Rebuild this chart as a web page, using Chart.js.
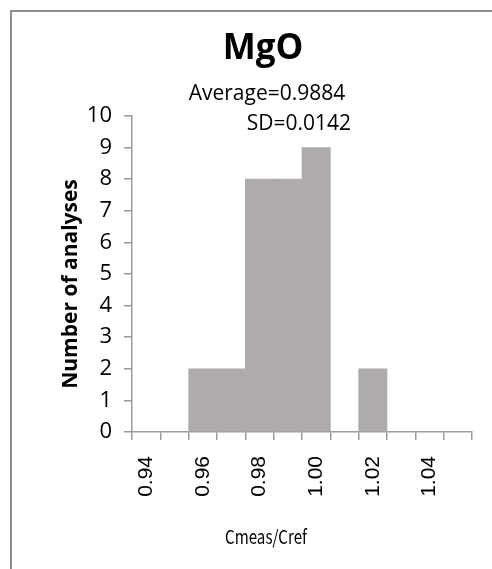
<!DOCTYPE html>
<html>
<head>
<meta charset="UTF-8">
<title>MgO</title>
<script src="https://cdn.jsdelivr.net/npm/chart.js"></script>
<style>
  body { margin: 0; background: #fff; }
  canvas { display: block; }
</style>
</head>
<body>
<canvas id="hist" width="492" height="569"></canvas>
<script>
// bins of Cmeas/Cref (bin start), counts per bin
const bins = ['0.94', '0.95', '0.96', '0.97', '0.98', '0.99', '1.00', '1.01', '1.02', '1.03', '1.04', '1.05'];
const counts = [0, 0, 2, 2, 8, 8, 9, 0, 2, 0, 0, 0];
const yTicks = [0, 1, 2, 3, 4, 5, 6, 7, 8, 9, 10];

const titleText = 'MgO';
const avgText = 'Average=0.9884';
const sdText = 'SD=0.0142';
const yTitle = 'Number of analyses';
const xTitle = 'Cmeas/Cref';

const axisGray = '#999999';

// frame + texts drawn on the canvas
const decor = {
  id: 'decor',
  beforeDraw(chart) {
    const c = chart.ctx;
    c.save();
    c.fillStyle = '#fff';
    c.fillRect(0, 0, chart.width, chart.height);
    c.strokeStyle = '#8c8c8c';
    c.lineWidth = 2;
    c.strokeRect(11, 11, 700, 700);
    c.restore();
  },
  afterDraw(chart) {
    const c = chart.ctx;
    c.save();
    c.fillStyle = '#000';
    c.textBaseline = 'alphabetic';

    c.font = 'bold 35px "Open Sans"';
    c.textAlign = 'center';
    c.fillText(titleText, 263, 59);

    c.font = '21px "Open Sans"';
    c.fillText(avgText, 267, 100);
    c.textAlign = 'right';
    c.fillText(sdText, 351, 130);

    // y axis title
    c.translate(77, 284);
    c.rotate(-Math.PI / 2);
    c.textAlign = 'center';
    c.font = 'bold 21px "Open Sans"';
    c.fillText(yTitle, 0, 0);
    c.restore();

    // x axis title, narrow gothic look
    c.save();
    c.font = '19px "Noto Sans CJK JP"';
    const w = c.measureText(xTitle).width;
    c.translate(266, 544);
    c.scale(82 / w, 1);
    c.textAlign = 'center';
    c.fillStyle = '#000';
    c.fillText(xTitle, 0, 0);
    c.restore();
  }
};

new Chart(document.getElementById('hist'), {
  type: 'bar',
  data: {
    labels: bins,
    datasets: [{
      data: counts,
      backgroundColor: '#aeabaa',
      borderWidth: 0,
      barPercentage: 1,
      categoryPercentage: 1
    }]
  },
  options: {
    responsive: false,
    animation: false,
    layout: { padding: { left: 0, top: 116, right: 20, bottom: 0 } },
    plugins: { legend: { display: false }, tooltip: { enabled: false } },
    scales: {
      x: {
        afterFit(s) { s.height = 137; s.paddingLeft = 0; s.paddingRight = 0; },
        border: { color: axisGray, width: 1.5 },
        grid: { offset: true, drawOnChartArea: false, color: axisGray, lineWidth: 1.5, tickLength: 8 },
        ticks: {
          autoSkip: false,
          maxRotation: 90,
          minRotation: 90,
          padding: 16,
          color: '#000',
          font: { family: '"Liberation Sans"', size: 21 },
          callback(v, i) { return i % 2 === 0 ? bins[i] : ''; }
        }
      },
      y: {
        min: 0,
        max: 10,
        afterFit(s) { s.width = 132; s.paddingTop = 0; s.paddingBottom = 0; },
        afterBuildTicks(s) { s.ticks = yTicks.map(v => ({ value: v })); },
        border: { color: axisGray, width: 1.5 },
        grid: { drawOnChartArea: false, color: axisGray, lineWidth: 1.5, tickLength: 8 },
        ticks: {
          padding: 12,
          color: '#000',
          font: { family: '"Open Sans"', size: 22 }
        }
      }
    }
  },
  plugins: [decor]
});
</script>
</body>
</html>
